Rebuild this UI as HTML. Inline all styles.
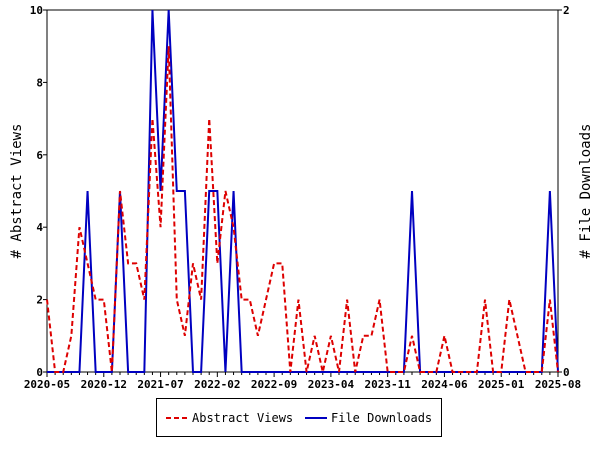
<!DOCTYPE html>
<html><head><meta charset="utf-8"><style>
body{margin:0;background:#fff}
svg{display:block;font-family:"DejaVu Sans Mono","Liberation Mono",monospace}
</style></head><body>
<svg id="c" width="600" height="450"></svg>
<script>
const months = ["2020-05","2020-12","2021-07","2022-02","2022-09","2023-04","2023-11","2024-06","2025-01","2025-08"];
const abstractViews = [2,0,0,1,4,3,2,2,0,5,3,3,2,7,4,9,2,1,3,2,7,3,5,4,2,2,1,2,3,3,0,2,0,1,0,1,0,2,0,1,1,2,0,0,0,1,0,0,0,1,0,0,0,0,2,0,0,2,1,0,0,0,2,0];
const fileDownloads = [0,0,0,0,0,1,0,0,0,1,0,0,0,2,1,2,1,1,0,0,1,1,0,1,0,0,0,0,0,0,0,0,0,0,0,0,0,0,0,0,0,0,0,0,0,1,0,0,0,0,0,0,0,0,0,0,0,0,0,0,0,0,1,0];
const leftTicks = [0,2,4,6,8,10];
const rightTicks = [0,2];
const NS="http://www.w3.org/2000/svg";
const svg=document.getElementById('c');
const X0=47,X1=558,Y0=372,Y1=10;
const nM=abstractViews.length-1;
const xs=i=>X0+(X1-X0)*i/nM;
const yl=v=>Y0-(Y0-Y1)*v/10;
const yr=v=>Y0-(Y0-Y1)*v/2;
function mk(t,a,txt){const e=document.createElementNS(NS,t);for(const k in a)e.setAttribute(k,a[k]);if(txt!=null)e.textContent=txt;svg.appendChild(e);return e;}
// frame
let fr=mk('rect',{x:X0,y:Y1,width:X1-X0,height:Y0-Y1,fill:'none',stroke:'#000','stroke-width':1});


// x ticks
for(let i=0;i<=nM;i++){
  const major=i%7===0;
  const t=mk('line',{x1:xs(i),x2:xs(i),y1:Y0,y2:Y0+(major?5:3),stroke:'#000'});
  
  
}
months.forEach((m,k)=>{
  const t=mk('text',{x:xs(k*7),y:388,'font-size':11,'font-weight':'bold','text-anchor':'middle'},m);
  
  
});
leftTicks.forEach(v=>{
  const l=mk('line',{x1:X0-4,x2:X0,y1:yl(v),y2:yl(v),stroke:'#000'});
  
  
  const t=mk('text',{x:X0-4,y:yl(v)+4,'font-size':11,'font-weight':'bold','text-anchor':'end'},String(v));
  
  
});
rightTicks.forEach(v=>{
  const l=mk('line',{x1:X1,x2:X1+4,y1:yr(v),y2:yr(v),stroke:'#000'});
  
  
  const t=mk('text',{x:X1+5,y:yr(v)+4,'font-size':11,'font-weight':'bold','text-anchor':'start'},String(v));
  
  
});
let a=mk('text',{x:21,y:191,'font-size':14,'text-anchor':'middle',transform:'rotate(-90 21 191)'},'# Abstract Views');


a=mk('text',{x:590,y:191,'font-size':14,'text-anchor':'middle',transform:'rotate(-90 590 191)'},'# File Downloads');


// series
let p=mk('polyline',{points:fileDownloads.map((v,i)=>xs(i)+','+yr(v)).join(' '),fill:'none',stroke:'#0000c0','stroke-width':2});


p=mk('polyline',{points:abstractViews.map((v,i)=>xs(i)+','+yl(v)).join(' '),fill:'none',stroke:'#dd0000','stroke-width':2,'stroke-dasharray':'5,3'});


// legend
let lg=mk('rect',{x:156.5,y:398.5,width:285,height:38,fill:'#fff',stroke:'#000'});


let l=mk('line',{x1:166,x2:188,y1:418,y2:418,stroke:'#dd0000','stroke-width':2,'stroke-dasharray':'5,3'});


let t=mk('text',{x:192,y:422,'font-size':12},'Abstract Views');


l=mk('line',{x1:305,x2:327,y1:418,y2:418,stroke:'#0000c0','stroke-width':2});


t=mk('text',{x:331,y:422,'font-size':12},'File Downloads');


</script>
</body></html>
